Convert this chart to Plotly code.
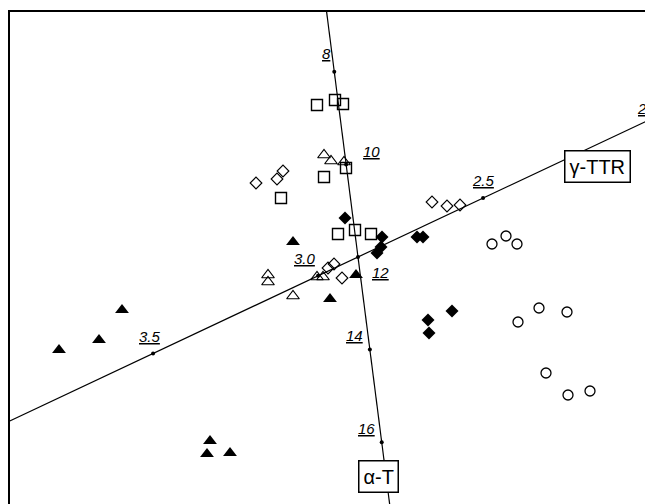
import plotly.graph_objects as go
import numpy as np

# ---- sample scores (biplot coordinates) ----
tri_filled_x = [-2.36, -2.59, -2.99, -1.48, -1.51, -1.28, -0.65, -0.28, -0.02]
tri_filled_y = [-0.53, -0.83, -0.93, -1.84, -1.97, -1.96, 0.15, -0.42, -0.18]

tri_open_x = [-0.90, -0.90, -0.65, -0.41, -0.35, -0.34, -0.27, -0.14]
tri_open_y = [-0.18, -0.25, -0.39, -0.20, -0.20, 1.02, 0.96, 0.95]

sq_open_x = [-0.41, -0.23, -0.15, -0.12, -0.34, -0.77, -0.20, -0.03, 0.13]
sq_open_y = [1.52, 1.57, 1.53, 0.89, 0.80, 0.59, 0.23, 0.27, 0.23]

dia_open_x = [-1.02, -0.81, -0.75, 0.74, 0.89, 1.02, -0.30, -0.24, -0.16]
dia_open_y = [0.74, 0.78, 0.86, 0.55, 0.51, 0.52, -0.11, -0.07, -0.21]

dia_filled_x = [-0.13, 0.24, 0.23, 0.19, 0.59, 0.65, 0.94, 0.70, 0.71]
dia_filled_y = [0.39, 0.20, 0.10, 0.04, 0.20, 0.20, -0.54, -0.63, -0.76]

circ_open_x = [1.34, 1.48, 1.59, 1.60, 1.81, 2.09, 1.88, 2.10, 2.32]
circ_open_y = [0.13, 0.21, 0.13, -0.65, -0.51, -0.55, -1.16, -1.38, -1.34]

# ---- calibrated biplot axes ----
at_ticks = [8, 10, 12, 14, 16]
at_tick_labels = ["8", "10", "12", "14", "16"]
at_ref_value = 12.0
at_step = (0.0593, -0.463)      # data shift per unit of alpha-T
at_label_value = 16.73

gt_ticks = [3.5, 3.0, 2.5, 2.0]
gt_tick_labels = ["3.5", "3.0", "2.5", "2"]
gt_ref_value = 2.879
gt_step = (-3.30, -1.554)       # data shift per unit of gamma-TTR
gt_label_value = 2.152


def at_point(v):
    return (v - at_ref_value) * at_step[0], (v - at_ref_value) * at_step[1]


def gt_point(v):
    return (v - gt_ref_value) * gt_step[0], (v - gt_ref_value) * gt_step[1]


fig = go.Figure()

# axis lines
at_vals = np.array([6.0, 18.0])
ax_x, ax_y = at_point(at_vals)
fig.add_trace(go.Scatter(x=ax_x, y=ax_y, mode="lines",
                         line=dict(color="black", width=1.2), hoverinfo="skip"))
gt_vals = np.array([4.2, 1.7])
gx, gy = gt_point(gt_vals)
fig.add_trace(go.Scatter(x=gx, y=gy, mode="lines",
                         line=dict(color="black", width=1.2), hoverinfo="skip"))

# tick dots
tx, ty = at_point(np.array(at_ticks, dtype=float))
fig.add_trace(go.Scatter(x=tx, y=ty, mode="markers",
                         marker=dict(color="black", size=4), hoverinfo="skip"))
tx2, ty2 = gt_point(np.array(gt_ticks, dtype=float))
fig.add_trace(go.Scatter(x=tx2, y=ty2, mode="markers",
                         marker=dict(color="black", size=4), hoverinfo="skip"))

fig.add_trace(go.Scatter(x=sq_open_x, y=sq_open_y, mode="markers",
                         marker=dict(symbol="square-open", size=11, color="black",
                                     line=dict(width=1.4))))
fig.add_trace(go.Scatter(x=circ_open_x, y=circ_open_y, mode="markers",
                         marker=dict(symbol="circle-open", size=10, color="black",
                                     line=dict(width=1.3))))
fig.add_trace(go.Scatter(x=dia_open_x, y=dia_open_y, mode="markers",
                         marker=dict(symbol="diamond-open", size=9, color="black",
                                     line=dict(width=1.1))))
fig.add_trace(go.Scatter(x=tri_open_x, y=tri_open_y, mode="markers",
                         marker=dict(symbol="triangle-up-open", size=11, color="black",
                                     line=dict(width=1.2))))
fig.add_trace(go.Scatter(x=dia_filled_x, y=dia_filled_y, mode="markers",
                         marker=dict(symbol="diamond", size=10, color="black")))
fig.add_trace(go.Scatter(x=tri_filled_x, y=tri_filled_y, mode="markers",
                         marker=dict(symbol="triangle-up", size=12, color="black")))

# tick labels
lab_font = dict(family="Liberation Sans", size=15, color="black")
at_offsets = [(-8, -18), (25, -13), (22, 15), (-15, -14), (-15, -14)]
for v, t, (dx, dy) in zip(at_ticks, at_tick_labels, at_offsets):
    x0, y0 = at_point(v)
    fig.add_annotation(x=x0, y=y0, text=f"<i><u>{t}</u></i>", showarrow=False,
                       xshift=dx, yshift=-dy, font=lab_font)
gt_offsets = [(-3, -17), (-13, -17), (0, -18), (4, -17)]
gt_label_anchor = [3.5, 3.0, 2.5, 2.03]   # last tick sits just outside the frame
for v, t, (dx, dy) in zip(gt_label_anchor, gt_tick_labels, gt_offsets):
    x0, y0 = gt_point(v)
    fig.add_annotation(x=x0, y=y0, text=f"<i><u>{t}</u></i>", showarrow=False,
                       xshift=dx, yshift=-dy, font=lab_font)

# axis name boxes
box_font = dict(family="Liberation Sans Narrow, Liberation Sans", size=20, color="black")
x0, y0 = at_point(at_label_value)
fig.add_annotation(x=x0, y=y0, text="α-T", showarrow=False, font=box_font,
                   xshift=-8,
                   bgcolor="white", bordercolor="black", borderwidth=1.5, borderpad=4)
x0, y0 = gt_point(gt_label_value)
fig.add_annotation(x=x0, y=y0, text="γ-TTR", showarrow=False, font=box_font,
                   xshift=0, yshift=-22,
                   bgcolor="white", bordercolor="black", borderwidth=1.5, borderpad=4)

fig.update_layout(
    width=645, height=504,
    margin=dict(l=10, r=0, t=12, b=0),
    paper_bgcolor="white", plot_bgcolor="white",
    showlegend=False,
    xaxis=dict(range=[-3.48, 2.87], showgrid=False, zeroline=False, showticklabels=False,
               ticks="", showline=True, linecolor="black", linewidth=2, side="top"),
    yaxis=dict(range=[-2.47, 2.45], showgrid=False, zeroline=False, showticklabels=False,
               ticks="", showline=True, linecolor="black", linewidth=1.5),
)

fig.write_html("out.html", config={"displayModeBar": False},
               post_script="document.body.style.margin='0';document.body.style.overflow='hidden';")
